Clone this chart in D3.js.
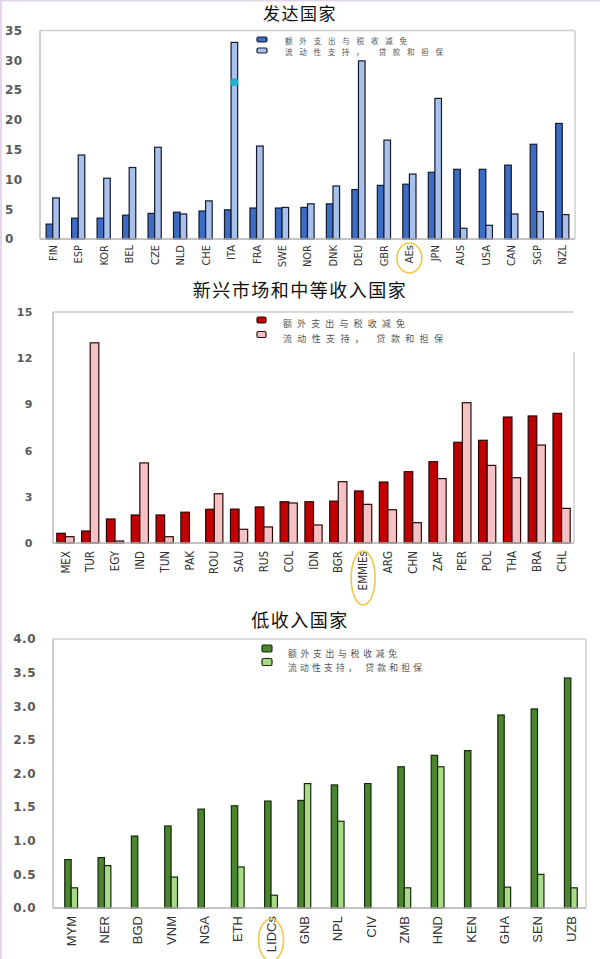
<!DOCTYPE html>
<html>
<head>
<meta charset="utf-8">
<script src="https://cdn.jsdelivr.net/npm/d3@7"></script>
<style>
  body { margin: 0; background: #fff; }
  svg { display: block; }
</style>
</head>
<body>
<svg id="chart"></svg>
<script>
// Data
const seriesNames = ['额外支出与税收减免', '流动性支持， 贷款和担保'];

const aeCountries = ['FIN', 'ESP', 'KOR', 'BEL', 'CZE', 'NLD', 'CHE', 'ITA', 'FRA', 'SWE', 'NOR',
  'DNK', 'DEU', 'GBR', 'AEs', 'JPN', 'AUS', 'USA', 'CAN', 'SGP', 'NZL'];
const aeSpending = [2.5, 3.5, 3.5, 4.0, 4.3, 4.5, 4.7, 4.9, 5.2, 5.2, 5.3,
  5.9, 8.3, 9.0, 9.2, 11.2, 11.7, 11.7, 12.4, 15.9, 19.4];
const aeLiquidity = [6.9, 14.1, 10.2, 12.0, 15.4, 4.2, 6.4, 33.0, 15.6, 5.3, 5.9,
  8.9, 29.9, 16.6, 10.9, 23.6, 1.8, 2.3, 4.2, 4.6, 4.1];
const aeTicks = [0, 5, 10, 15, 20, 25, 30, 35];
const aeMarker = { country: 'ITA', value: 26.3 };

const emCountries = ['MEX', 'TUR', 'EGY', 'IND', 'TUN', 'PAK', 'ROU', 'SAU', 'RUS', 'COL', 'IDN',
  'BGR', 'EMMIEs', 'ARG', 'CHN', 'ZAF', 'PER', 'POL', 'THA', 'BRA', 'CHL'];
const emSpending = [0.63, 0.78, 1.56, 1.82, 1.82, 2.0, 2.19, 2.2, 2.34, 2.68, 2.68,
  2.72, 3.38, 3.96, 4.63, 5.28, 6.54, 6.67, 8.18, 8.25, 8.42];
const emLiquidity = [0.41, 13.0, 0.13, 5.2, 0.41, 0, 3.2, 0.89, 1.04, 2.6, 1.17,
  3.98, 2.51, 2.16, 1.32, 4.18, 9.11, 5.04, 4.24, 6.36, 2.25];
const emTicks = [0, 3, 6, 9, 12, 15];

const lidcCountries = ['MYM', 'NER', 'BGD', 'VNM', 'NGA', 'ETH', 'LIDCs', 'GNB', 'NPL', 'CIV',
  'ZMB', 'HND', 'KEN', 'GHA', 'SEN', 'UZB'];
const lidcSpending = [0.72, 0.75, 1.07, 1.22, 1.47, 1.52, 1.59, 1.6, 1.83, 1.85,
  2.10, 2.27, 2.34, 2.87, 2.96, 3.42];
const lidcLiquidity = [0.30, 0.63, 0, 0.46, 0, 0.61, 0.19, 1.85, 1.29, 0,
  0.30, 2.10, 0, 0.31, 0.50, 0.30];
const lidcTicks = [0, 0.5, 1.0, 1.5, 2.0, 2.5, 3.0, 3.5, 4.0];

// Page
const width = 600;
const height = 959;

const svg = d3.select('#chart')
  .attr('width', width)
  .attr('height', height);

// lavender frame on left and top edges
svg.append('rect').attr('x', 0).attr('y', 0).attr('width', 2).attr('height', height).attr('fill', '#e4d6ea');
svg.append('rect').attr('x', 0).attr('y', 0).attr('width', width).attr('height', 1.5).attr('fill', '#e4d6ea');

const panels = [
  {
    title: '发达国家', titleY: 20, titleSize: 17,
    countries: aeCountries, a: aeSpending, b: aeLiquidity,
    ticks: aeTicks, fmt: d3.format('d'),
    x0: 40, x1: 575, yBase: 239, yTop: 30.5, max: 35,
    barW: 6.6, shift: 0,
    colA: '#3c6cc4', colB: '#a8c0ea', stroke: '#141a2e',
    tickX: 5, tickAnchor: 'start', tickSize: 12,
    labelSize: 11, labelFont: '"Liberation Sans Narrow", "DejaVu Sans Condensed", sans-serif',
    labelGap: 6,
    legend: { x: 257, y: 37, sq: [10, 5], textX: 285, base: 43.5, step: 11, w: [122, 158], size: 7.5 },
    highlight: { name: 'AEs', dy: 13, rx: 12.5, ry: 15 },
    rightFrom: 31
  },
  {
    title: '新兴市场和中等收入国家', titleY: 297, titleSize: 18,
    countries: emCountries, a: emSpending, b: emLiquidity,
    ticks: emTicks, fmt: d3.format('d'),
    x0: 53, x1: 574, yBase: 543, yTop: 312, max: 15,
    barW: 8.6, shift: 0,
    colA: '#c00000', colB: '#f4c2c4', stroke: '#2a0808',
    tickX: 33, tickAnchor: 'end', tickSize: 11,
    labelSize: 11.5, labelFont: '"Liberation Sans Narrow", "DejaVu Sans Condensed", sans-serif',
    labelGap: 8,
    legend: { x: 257, y: 317, sq: [9, 6], textX: 283, base: 327, step: 14.5, w: [122, 160], size: 9 },
    highlight: { name: 'EMMIEs', dy: 27, rx: 12, ry: 27 },
    rightFrom: 352
  },
  {
    title: '低收入国家', titleY: 627, titleSize: 18,
    countries: lidcCountries, a: lidcSpending, b: lidcLiquidity,
    ticks: lidcTicks, fmt: d3.format('.1f'),
    x0: 53, x1: 586, yBase: 908, yTop: 639, max: 4,
    barW: 6.4, shift: 1.5,
    colA: '#4c8530', colB: '#a8da88', stroke: '#16280c',
    tickX: 36, tickAnchor: 'end', tickSize: 12,
    labelSize: 13, labelFont: '"Liberation Sans", "DejaVu Sans", sans-serif',
    labelGap: 8,
    legend: { x: 262, y: 645, sq: [10, 7], textX: 288, base: 657, step: 13.5, w: [109, 134], size: 8.8 },
    highlight: { name: 'LIDCs', dy: 24, rx: 12.5, ry: 21 },
    rightFrom: 639
  }
];

panels.forEach(drawPanel);

function drawPanel(p) {
  const g = svg.append('g');

  const x = d3.scaleBand()
    .domain(p.countries)
    .range([p.x0, p.x1])
    .padding(0);

  const y = d3.scaleLinear()
    .domain([0, p.max])
    .range([p.yBase, p.yTop]);

  const cx = c => x(c) + x.bandwidth() / 2 + p.shift;

  // title
  g.append('text')
    .attr('x', 300)
    .attr('y', p.titleY)
    .attr('text-anchor', 'middle')
    .attr('font-family', '"Noto Sans CJK SC", sans-serif')
    .attr('font-size', p.titleSize)
    .attr('letter-spacing', 1.5)
    .attr('fill', '#111')
    .text(p.title);

  // frame
  g.append('line')
    .attr('x1', p.x0).attr('x2', p.x1)
    .attr('y1', p.yTop).attr('y2', p.yTop)
    .attr('stroke', '#cfcfcf').attr('stroke-width', 1.5);
  g.append('line')
    .attr('x1', p.x1).attr('x2', p.x1)
    .attr('y1', p.rightFrom).attr('y2', p.yBase)
    .attr('stroke', '#cfcfcf').attr('stroke-width', 1.5);
  g.append('line')
    .attr('x1', p.x0).attr('x2', p.x0)
    .attr('y1', p.yTop).attr('y2', p.yBase)
    .attr('stroke', '#bdbdbd').attr('stroke-width', 1.5);

  // y tick labels
  g.selectAll('.ytick')
    .data(p.ticks)
    .join('text')
    .attr('x', p.tickX)
    .attr('y', d => y(d))
    .attr('dy', '0.36em')
    .attr('text-anchor', p.tickAnchor)
    .attr('font-family', '"DejaVu Sans", sans-serif')
    .attr('font-weight', 'bold')
    .attr('font-size', p.tickSize)
    .attr('letter-spacing', 0.5)
    .attr('fill', '#5a5a5a')
    .text(d => p.fmt(d));

  // bars
  const rows = p.countries.map((c, i) => ({ c, a: p.a[i], b: p.b[i] }));

  g.selectAll('.barA')
    .data(rows)
    .join('rect')
    .attr('x', d => cx(d.c) - p.barW)
    .attr('y', d => y(d.a))
    .attr('width', p.barW)
    .attr('height', d => y(0) - y(d.a))
    .attr('fill', p.colA)
    .attr('stroke', p.stroke)
    .attr('stroke-width', 1.2);

  g.selectAll('.barB')
    .data(rows.filter(d => d.b > 0))
    .join('rect')
    .attr('x', d => cx(d.c))
    .attr('y', d => y(d.b))
    .attr('width', p.barW)
    .attr('height', d => y(0) - y(d.b))
    .attr('fill', p.colB)
    .attr('stroke', p.stroke)
    .attr('stroke-width', 1.2);

  // bottom axis line
  g.append('line')
    .attr('x1', p.x0).attr('x2', p.x1)
    .attr('y1', p.yBase).attr('y2', p.yBase)
    .attr('stroke', '#b0b0b0').attr('stroke-width', 1.5);

  // x labels, rotated
  g.selectAll('.xlab')
    .data(p.countries)
    .join('text')
    .attr('transform', d => `translate(${cx(d)},${p.yBase + p.labelGap}) rotate(-90)`)
    .attr('dy', '0.36em')
    .attr('text-anchor', 'end')
    .attr('font-family', p.labelFont)
    .attr('font-size', p.labelSize)
    .attr('fill', '#333')
    .text(d => d);

  // highlighted aggregate
  const h = p.highlight;
  g.append('ellipse')
    .attr('cx', cx(h.name))
    .attr('cy', p.yBase + p.labelGap + h.dy)
    .attr('rx', h.rx)
    .attr('ry', h.ry)
    .attr('fill', 'none')
    .attr('stroke', '#f0c846')
    .attr('stroke-width', 1.6);

  // legend
  const L = p.legend;
  [p.colA, p.colB].forEach((col, i) => {
    g.append('rect')
      .attr('x', L.x)
      .attr('y', L.y + i * L.step)
      .attr('width', L.sq[0])
      .attr('height', L.sq[1])
      .attr('rx', 1.5)
      .attr('fill', col)
      .attr('stroke', p.stroke)
      .attr('stroke-width', 1.2);
    g.append('text')
      .attr('x', L.textX)
      .attr('y', L.base + i * L.step)
      .attr('font-family', '"Noto Sans CJK SC", sans-serif')
      .attr('font-size', L.size)
      .attr('textLength', L.w[i])
      .attr('lengthAdjust', 'spacing')
      .attr('fill', '#555')
      .text(seriesNames[i]);
  });
}

// stray marker on the ITA liquidity bar
{
  const p = panels[0];
  const x = d3.scaleBand().domain(p.countries).range([p.x0, p.x1]);
  const y = d3.scaleLinear().domain([0, p.max]).range([p.yBase, p.yTop]);
  svg.append('circle')
    .attr('cx', x(aeMarker.country) + x.bandwidth() / 2 + p.barW / 2)
    .attr('cy', y(aeMarker.value))
    .attr('r', 4)
    .attr('fill', '#1cb2d4');
}
</script>
</body>
</html>
